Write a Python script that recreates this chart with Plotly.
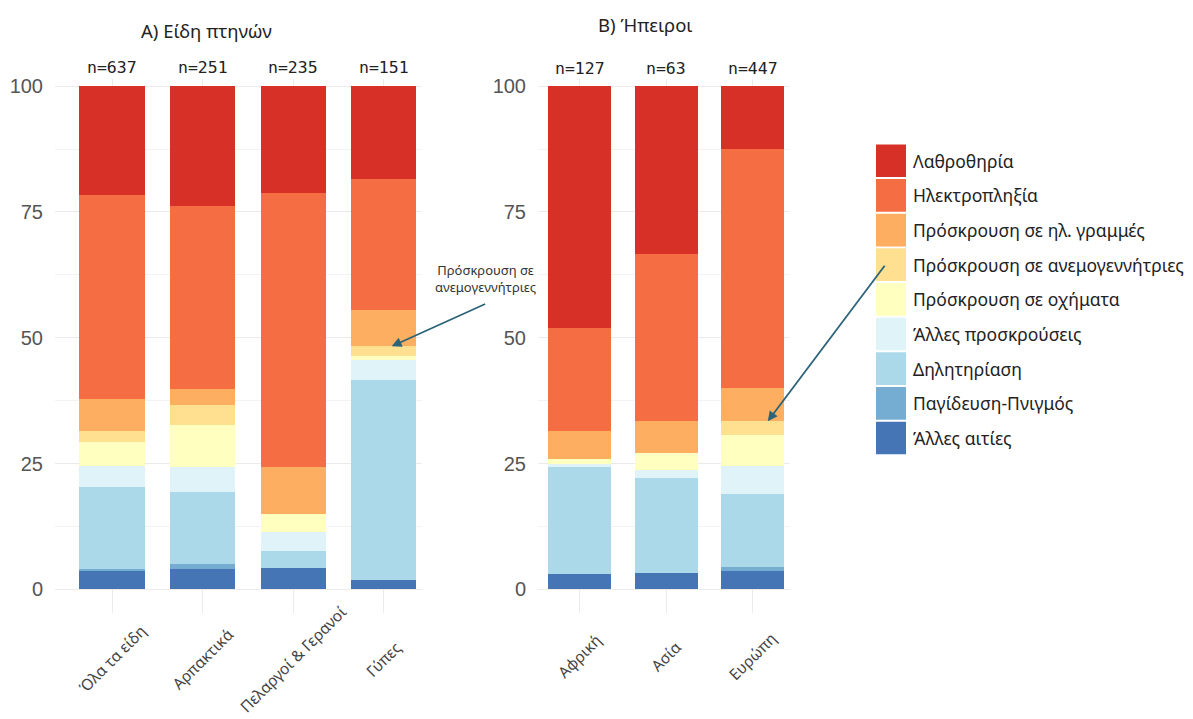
import plotly.graph_objects as go

# ---------------- data ----------------
causes = ["Λαθροθηρία", "Ηλεκτροπληξία", "Πρόσκρουση σε ηλ. γραμμές",
          "Πρόσκρουση σε ανεμογεννήτριες", "Πρόσκρουση σε οχήματα",
          "Άλλες προσκρούσεις", "Δηλητηρίαση", "Παγίδευση-Πνιγμός", "Άλλες αιτίες"]
colors = ["#D73027", "#F46D43", "#FDAE61", "#FEE090", "#FFFFBF",
          "#E0F3F8", "#ABD9E9", "#74ADD1", "#4575B4"]

species = ["Όλα τα είδη", "Αρπακτικά", "Πελαργοί & Γερανοί", "Γύπες"]
species_n = ["n=637", "n=251", "n=235", "n=151"]
# percentages per cause (same order as causes), one list per species
species_vals = {
    "Όλα τα είδη":        [21.6, 40.6, 6.4, 2.1, 4.8, 4.1, 16.4, 0.4, 3.6],
    "Αρπακτικά":          [23.8, 36.3, 3.3, 4.0, 8.3, 4.9, 14.4, 1.0, 4.0],
    "Πελαργοί & Γερανοί": [21.2, 54.5, 9.4, 0.0, 3.5, 3.7, 3.5, 0.0, 4.2],
    "Γύπες":              [18.5, 25.9, 7.3, 1.9, 0.9, 3.9, 39.7, 0.0, 1.9],
}

continents = ["Αφρική", "Ασία", "Ευρώπη"]
continents_n = ["n=127", "n=63", "n=447"]
continent_vals = {
    "Αφρική": [48.0, 20.6, 5.5, 0.0, 0.9, 0.6, 21.4, 0.0, 3.0],
    "Ασία":   [33.3, 33.3, 6.4, 0.0, 3.2, 1.6, 19.0, 0.0, 3.2],
    "Ευρώπη": [12.5, 47.4, 6.7, 2.8, 6.0, 5.7, 14.5, 0.7, 3.7],
}

panel_titles = ["A) Είδη πτηνών", "B) Ήπειροι"]
annot_text = "Πρόσκρουση σε<br>ανεμογεννήτριες"
y_ticks = [0, 25, 50, 75, 100]

# ---------------- figure ----------------
W, H = 1193, 719
fig = go.Figure()

def px_x(p):
    return p / W

def px_y(p):
    return 1 - p / H

# stacked bars: bottom segment is last cause
for i in reversed(range(len(causes))):
    fig.add_trace(go.Bar(
        x=species, y=[species_vals[s][i] for s in species],
        name=causes[i], marker=dict(color=colors[i], line=dict(width=0)),
        width=0.72, xaxis="x", yaxis="y", showlegend=False,
        hovertemplate="%{x}<br>" + causes[i] + ": %{y}%<extra></extra>"))
for i in reversed(range(len(causes))):
    fig.add_trace(go.Bar(
        x=continents, y=[continent_vals[c][i] for c in continents],
        name=causes[i], marker=dict(color=colors[i], line=dict(width=0)),
        width=0.73, xaxis="x2", yaxis="y2", showlegend=False,
        hovertemplate="%{x}<br>" + causes[i] + ": %{y}%<extra></extra>"))

ydom = [px_y(613), px_y(76)]
yax = dict(range=[-4.8, 101.5], tickvals=y_ticks, showgrid=True,
           gridcolor="#EBEBEB", gridwidth=1.2, zeroline=False,
           minor=dict(dtick=12.5, showgrid=True, gridcolor="#F3F3F3", gridwidth=0.8),
           tickfont=dict(family="Liberation Sans, Arial", size=20, color="#555555"),
           ticks="", ticklabelstandoff=11, domain=ydom, fixedrange=True)
xax = dict(showgrid=True, gridcolor="#EBEBEB", gridwidth=1.2, showticklabels=False,
           ticks="", zeroline=False, showline=False, fixedrange=True)

fig.update_layout(
    width=W, height=H, autosize=False,
    margin=dict(l=0, r=0, t=0, b=0),
    paper_bgcolor="white", plot_bgcolor="white",
    barmode="stack", bargap=0.28,
    font=dict(family="Noto Sans", color="#222222"),
    xaxis=dict(xax, domain=[px_x(55), px_x(421.7)], range=[-0.63, 3.42],
               categoryorder="array", categoryarray=species),
    yaxis=dict(yax, anchor="x"),
    xaxis2=dict(xax, domain=[px_x(538), px_x(790)], range=[-0.48, 2.43],
                categoryorder="array", categoryarray=continents, anchor="y2"),
    yaxis2=dict(yax, anchor="x2"),
)

ann = []
# panel titles
ann.append(dict(text=panel_titles[0], xref="paper", yref="paper", x=px_x(206), y=px_y(28),
                xanchor="center", yanchor="middle", showarrow=False,
                font=dict(size=18.5, family="Noto Sans", color="#222222")))
ann.append(dict(text=panel_titles[1], xref="paper", yref="paper", x=px_x(645), y=px_y(22),
                xanchor="center", yanchor="middle", showarrow=False,
                font=dict(size=18.5, family="Noto Sans", color="#222222")))
# n= labels
for cat, n in zip(species, species_n):
    ann.append(dict(text=n, xref="x", yref="paper", x=cat, y=px_y(65), showarrow=False,
                    xanchor="center", yanchor="middle",
                    font=dict(size=16.5, family="DejaVu Sans Mono", color="#222222")))
for cat, n in zip(continents, continents_n):
    ann.append(dict(text=n, xref="x2", yref="paper", x=cat, y=px_y(66), showarrow=False,
                    xanchor="center", yanchor="middle",
                    font=dict(size=16.5, family="DejaVu Sans Mono", color="#222222")))
# rotated category labels
for cat in species:
    ann.append(dict(text=cat, xref="x", yref="paper", x=cat, y=px_y(659), showarrow=False,
                    textangle=-45, xanchor="center", yanchor="middle",
                    font=dict(size=15.5, family="Noto Sans", color="#444444")))
for cat in continents:
    ann.append(dict(text=cat, xref="x2", yref="paper", x=cat, y=px_y(656), showarrow=False,
                    textangle=-45, xanchor="center", yanchor="middle",
                    font=dict(size=15.5, family="Noto Sans", color="#444444")))
# wind-turbine callout
ann.append(dict(text=annot_text, xref="paper", yref="paper", x=px_x(485), y=px_y(277),
                xanchor="center", yanchor="middle", showarrow=False, align="center",
                font=dict(size=13, family="Noto Sans", color="#333333")))
ann.append(dict(text="", xref="x", yref="y", x="Γύπες", y=48.3, xshift=8,
                showarrow=True, ax=95, ay=-43, arrowhead=2, arrowsize=1.1,
                arrowwidth=1.8, arrowcolor="#2B6478", standoff=0))
ann.append(dict(text="", xref="x2", yref="y2", x="Ευρώπη", y=33.4, xshift=15,
                showarrow=True, ax=118, ay=-157, arrowhead=2, arrowsize=1.1,
                arrowwidth=1.8, arrowcolor="#2B6478", standoff=0))

# legend (drawn as swatches + labels)
shapes = []
row_top, row_h = 142, 34.8
for k, (lab, col) in enumerate(zip(causes, colors)):
    t = row_top + k * row_h
    shapes.append(dict(type="rect", xref="paper", yref="paper",
                       x0=px_x(876), x1=px_x(906), y0=px_y(t + row_h - 2), y1=px_y(t),
                       fillcolor=col, line=dict(width=0), layer="above"))
    ann.append(dict(text=lab, xref="paper", yref="paper", x=px_x(911), y=px_y(t + row_h / 2 - 1),
                    xanchor="left", yanchor="middle", showarrow=False,
                    font=dict(size=17.5, family="Noto Sans", color="#222222")))

fig.update_layout(annotations=ann, shapes=shapes)
fig.write_html("out.html", config={"displayModeBar": False},
               post_script="document.body.style.margin='0';document.body.style.overflow='hidden';")
